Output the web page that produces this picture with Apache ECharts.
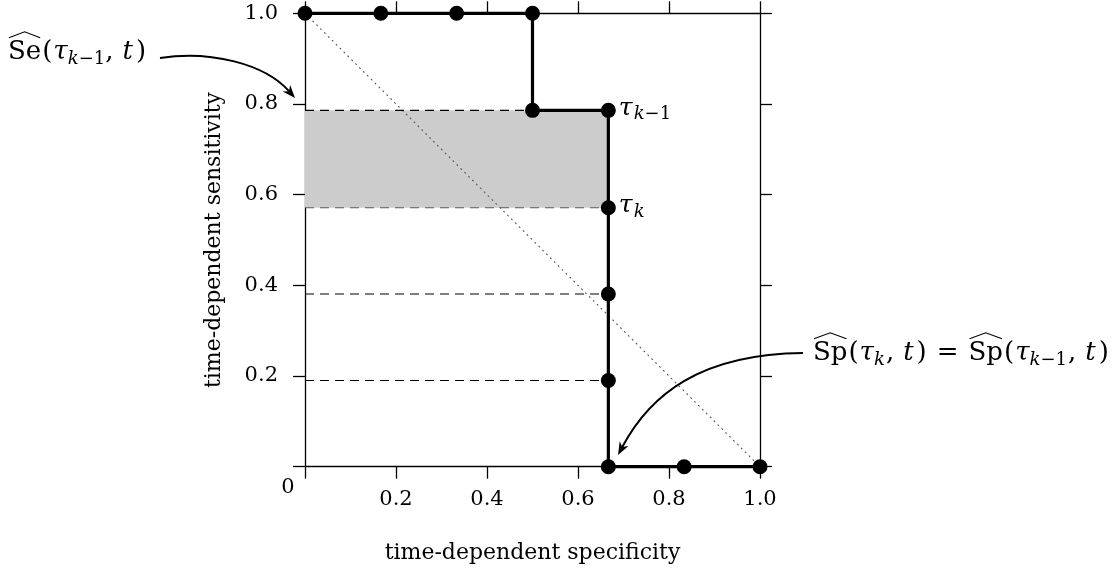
<!DOCTYPE html>
<html>
<head>
<meta charset="utf-8">
<script src="https://cdn.jsdelivr.net/npm/echarts@6/dist/echarts.min.js"></script>
<style>
  html, body { margin: 0; padding: 0; background: #fff; }
  #chart { width: 1119px; height: 581px; }
</style>
</head>
<body>
<div id="chart"></div>
<script>
// Empirical time-dependent ROC curve: one vertex per cut-off value.
const specificity = [0, 0.1667, 0.3333, 0.5, 0.5, 0.6667, 0.6667, 0.6667, 0.6667, 0.6667, 0.8333, 1];
const sensitivity = [1, 1, 1, 1, 0.786, 0.786, 0.571, 0.381, 0.19, 0, 0, 0];

// Vertices carrying a cut-off tag: index -> [symbol, subscript]
const cutoffTags = { 5: ['τ', 'k−1'], 6: ['τ', 'k'] };

// Horizontal dashed guides, drawn from specificity 0 to guideEnd
const guideLevels = [0.786, 0.571, 0.381, 0.19];
const guideColors = ['#000', '#5a5a5a', '#000', '#000'];
const guideEnd = 0.6667;

// Shaded band between the two consecutive sensitivities
const bandX = [0, 0.6667];
const bandY = [0.571, 0.786];

// Chance diagonal
const diagonal = [[0, 1], [1, 0]];

const axisMin = 0, axisMax = 1, axisStep = 0.2;

const SERIF = '"DejaVu Serif", serif';
const chart = echarts.init(document.getElementById('chart'), null, { renderer: 'canvas' });

const tickFmt = v => (Math.abs(v) < 1e-9 ? '' : v.toFixed(1));

function axisBase(position, showLabel) {
  return {
    type: 'value', min: axisMin, max: axisMax, interval: axisStep, position,
    axisLine: { show: true, onZero: false, lineStyle: { color: '#000', width: 1.3 } },
    axisTick: { show: true, inside: false, length: 12, lineStyle: { color: '#000', width: 1.3 } },
    splitLine: { show: false },
    axisLabel: {
      show: showLabel, formatter: tickFmt, color: '#000',
      fontFamily: SERIF, fontSize: 21
    }
  };
}

const xBottom = axisBase('bottom', true);
xBottom.axisLabel.margin = 22;
xBottom.name = 'time-dependent specificity';
xBottom.nameLocation = 'middle';
xBottom.nameGap = 76;
xBottom.nameTextStyle = { fontFamily: SERIF, fontSize: 22, color: '#000' };
const xTop = axisBase('top', false);

const yLeft = axisBase('left', true);
yLeft.axisLabel.margin = 27;
yLeft.name = 'time-dependent sensitivity';
yLeft.nameLocation = 'middle';
yLeft.nameGap = 80;
yLeft.nameTextStyle = { fontFamily: SERIF, fontSize: 22, color: '#000' };
const yRight = axisBase('right', false);

const tagRich = {
  t: { fontFamily: SERIF, fontStyle: 'italic', fontSize: 25, color: '#000' },
  sk: { fontFamily: SERIF, fontStyle: 'italic', fontSize: 18, color: '#000', padding: [13, 0, 0, 1] },
  sn: { fontFamily: SERIF, fontSize: 18, color: '#000', padding: [13, 0, 0, 0] }
};

const rocData = specificity.map((x, i) => {
  const item = { value: [x, sensitivity[i]] };
  const tag = cutoffTags[i];
  if (tag) {
    const sub = tag[1];
    const kPart = sub.charAt(0), rest = sub.slice(1);
    item.label = {
      show: true, position: 'right', distance: 3, offset: [0, -2],
      formatter: '{t|' + tag[0] + '}{sk|' + kPart + '}' + (rest ? '{sn|' + rest + '}' : ''),
      rich: tagRich
    };
  }
  return item;
});

const series = [
  {
    // shaded band
    type: 'line', data: [], silent: true,
    markArea: {
      silent: true,
      itemStyle: { color: '#cccccc' },
      data: [[{ coord: [bandX[0], bandY[0]] }, { coord: [bandX[1], bandY[1]] }]]
    },
    z: 1
  },
  {
    type: 'line', data: diagonal, showSymbol: false, symbol: 'none', silent: true, clip: false,
    lineStyle: { color: '#555', width: 1.1, type: [1, 4.5], cap: 'round' }, z: 2
  }
];

guideLevels.forEach((lvl, i) => {
  series.push({
    type: 'line', data: [[0, lvl], [guideEnd, lvl]], symbol: 'none', silent: true, clip: false,
    lineStyle: { color: guideColors[i], width: 1.1, type: [9, 6] }, z: 3
  });
});

series.push({
  type: 'line', data: rocData, clip: false, silent: true,
  symbol: 'circle', symbolSize: 15, showAllSymbol: true,
  itemStyle: { color: '#000' },
  lineStyle: { color: '#000', width: 3.2 },
  z: 5
});

chart.setOption({
  animation: false,
  backgroundColor: '#fff',
  grid: { left: 305, right: 359, top: 13.3, bottom: 114.3, containLabel: false },
  xAxis: [xBottom, xTop],
  yAxis: [yLeft, yRight],
  series
});

// ---- annotations: math-style text runs with wide hats, and curved arrows ----
const ctx = document.createElement('canvas').getContext('2d');
function fontOf(size, italic) {
  return (italic ? 'italic ' : '') + size + 'px "DejaVu Serif"';
}
function mathLine(runs, x0, y, size) {
  const els = [];
  let x = x0;
  const subSize = Math.round(size * 0.7);
  runs.forEach(r => {
    const fs = r.sub ? subSize : size;
    ctx.font = fontOf(fs, r.it);
    ctx.textBaseline = 'middle';
    const m = ctx.measureText(r.t);
    const w = m.width;
    const ty = y + (r.sub ? size * 0.3 : 0);
    els.push({
      type: 'text', x, y: ty, silent: true,
      style: {
        text: r.t, fill: '#000', fontFamily: SERIF, fontSize: fs,
        fontStyle: r.it ? 'italic' : 'normal', align: 'left', verticalAlign: 'middle'
      }
    });
    if (r.hat) {
      const top = ty - m.actualBoundingBoxAscent;
      els.push({
        type: 'polyline', silent: true,
        shape: { points: [[x + 1, top - 2], [x + w / 2, top - 8], [x + w - 1, top - 2]] },
        style: { stroke: '#000', lineWidth: 1.1, fill: null }
      });
    }
    x += w + (r.gap || 0);
  });
  return els;
}
function curvedArrow(p0, c1, c2, p3) {
  const dx = p3[0] - c2[0], dy = p3[1] - c2[1];
  const len = Math.hypot(dx, dy);
  const ux = dx / len, uy = dy / len;
  const L = 13, W = 5;
  const bx = p3[0] - ux * L, by = p3[1] - uy * L;
  const nx = p3[0] - ux * L * 0.7, ny = p3[1] - uy * L * 0.7;
  return [
    {
      type: 'bezierCurve', silent: true,
      shape: { x1: p0[0], y1: p0[1], cpx1: c1[0], cpy1: c1[1], cpx2: c2[0], cpy2: c2[1], x2: nx, y2: ny },
      style: { stroke: '#000', lineWidth: 2, fill: null }
    },
    {
      type: 'polygon', silent: true,
      shape: { points: [p3, [bx - uy * W, by + ux * W], [nx, ny], [bx + uy * W, by - ux * W]] },
      style: { fill: '#000' }
    }
  ];
}

const seRuns = [
  { t: 'Se', hat: true, gap: 1 }, { t: '(', gap: 1 }, { t: 'τ', it: true }, { t: 'k', it: true, sub: true },
  { t: '−1', sub: true }, { t: ',', gap: 9 }, { t: 't', it: true, gap: 3 }, { t: ')' }
];
const spRuns = [
  { t: 'Sp', hat: true, gap: 1 }, { t: '(', gap: 1 }, { t: 'τ', it: true }, { t: 'k', it: true, sub: true, gap: 1 },
  { t: ',', gap: 9 }, { t: 't', it: true, gap: 3 }, { t: ')', gap: 10 }, { t: '=', gap: 10 },
  { t: 'Sp', hat: true, gap: 1 }, { t: '(', gap: 1 }, { t: 'τ', it: true }, { t: 'k', it: true, sub: true },
  { t: '−1', sub: true, gap: 1 }, { t: ',', gap: 9 }, { t: 't', it: true, gap: 3 }, { t: ')' }
];

const origin = chart.convertToPixel({ gridIndex: 0 }, [0, 0]);
const graphic = [].concat(
  mathLine(seRuns, 8, 52, 26),
  mathLine(spRuns, 813, 353, 26),
  curvedArrow([160, 58], [210, 50], [265, 64], [295, 98]),
  curvedArrow([803, 353], [700, 354], [650, 395], [618, 455]),
  [{
    type: 'text', x: origin[0] - 17, y: origin[1] + 21, silent: true,
    style: { text: '0', fill: '#000', fontFamily: SERIF, fontSize: 21, align: 'center', verticalAlign: 'middle' }
  }]
);
chart.setOption({ graphic });
</script>
</body>
</html>
